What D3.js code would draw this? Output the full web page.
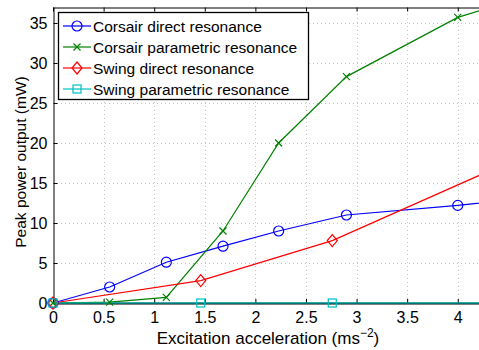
<!DOCTYPE html>
<html>
<head>
<meta charset="utf-8">
<script src="https://cdn.jsdelivr.net/npm/d3@7"></script>
<style>
  body { margin: 0; background: #fff; }
  svg { display: block; font-family: "Liberation Sans", Arial, Helvetica, sans-serif; }
</style>
</head>
<body>
<svg id="chart" width="479" height="350"></svg>
<script>
// data
const corsair_direct_x = [0, 0.56, 1.12, 1.68, 2.23, 2.9, 4.0, 4.6];
const corsair_direct_y = [0, 2.0, 5.1, 7.1, 9.0, 11.0, 12.2, 13.0];
const corsair_param_x = [0, 0.56, 1.12, 1.68, 2.23, 2.9, 4.0, 4.6];
const corsair_param_y = [0, 0.1, 0.7, 9.0, 20.0, 28.3, 35.7, 38.0];
const swing_direct_x = [0, 1.46, 2.76, 4.4];
const swing_direct_y = [0, 2.8, 7.8, 17.0];
const swing_param_x = [0, 1.46, 2.76, 4.4];
const swing_param_y = [0, 0, 0, 0];

const x_ticks = [0, 0.5, 1, 1.5, 2, 2.5, 3, 3.5, 4];
const y_ticks = [0, 5, 10, 15, 20, 25, 30, 35];

const series_names = ["Corsair direct resonance", "Corsair parametric resonance",
                      "Swing direct resonance", "Swing parametric resonance"];
const series_colors = ["#0000ff", "#008000", "#ff0000", "#00bfbf"];
const series_markers = ["circle", "cross", "diamond", "square"];

const series = [
    {xs: corsair_direct_x, ys: corsair_direct_y},
    {xs: corsair_param_x, ys: corsair_param_y},
    {xs: swing_direct_x, ys: swing_direct_y},
    {xs: swing_param_x, ys: swing_param_y}
];

const margin = {left: 53, top: 7, right: 0, bottom: 47};
const width = 479, height = 350;

const svg = d3.select('#chart');

const x = d3.scaleLinear().domain([0, 4.21]).range([margin.left, width - margin.right]);
const y = d3.scaleLinear().domain([0, 37]).range([height - margin.bottom, margin.top]);

svg.append('clipPath').attr('id', 'plot_clip')
    .append('rect')
    .attr('x', margin.left).attr('y', margin.top)
    .attr('width', width - margin.left - margin.right)
    .attr('height', y(0) - margin.top + 2);

// grid
const grid = svg.append('g')
    .style('stroke', '#c0c0c0')
    .style('stroke-dasharray', '1,3')
    .style('stroke-width', 1);
x_ticks.slice(1).forEach(function(t) {
    grid.append('line')
        .attr('x1', Math.round(x(t)) + 0.5).attr('x2', Math.round(x(t)) + 0.5)
        .attr('y1', y(0)).attr('y2', margin.top);
});
y_ticks.slice(1).forEach(function(t) {
    grid.append('line')
        .attr('x1', margin.left).attr('x2', width)
        .attr('y1', Math.round(y(t)) + 0.5).attr('y2', Math.round(y(t)) + 0.5);
});

// axes
const x_axis = svg.append('g')
    .attr('transform', 'translate(0,' + y(0) + ')')
    .call(d3.axisBottom(x).tickValues(x_ticks).tickSizeInner(-4).tickSizeOuter(0).tickPadding(9)
        .tickFormat(d3.format('')));
const x_axis_top = svg.append('g')
    .attr('transform', 'translate(0,' + (margin.top + 0.5) + ')')
    .call(d3.axisTop(x).tickValues(x_ticks).tickSizeInner(-4).tickSizeOuter(0).tickFormat(''));
const y_axis = svg.append('g')
    .attr('transform', 'translate(' + (margin.left + 0.5) + ',0)')
    .call(d3.axisLeft(y).tickValues(y_ticks).tickSizeInner(-4).tickSizeOuter(0).tickPadding(6));

[x_axis, x_axis_top, y_axis].forEach(function(ax) {
    ax.selectAll('path, line').attr('stroke', '#000');
    ax.selectAll('text').attr('fill', '#000').style('font-size', '16px')
        .style('font-family', '"Liberation Sans", Arial, sans-serif');
});
x_axis.select('.domain').attr('stroke-width', 2);

// series lines
const plot = svg.append('g').attr('clip-path', 'url(#plot_clip)');
const line = d3.line().x(d => x(d[0])).y(d => y(d[1]));

function draw_marker(g, kind, cx, cy, color) {
    if (kind === 'circle') {
        g.append('circle').attr('cx', cx).attr('cy', cy).attr('r', 5)
            .attr('fill', 'none').attr('stroke', color).attr('stroke-width', 1.2);
    } else if (kind === 'cross') {
        g.append('path')
            .attr('d', 'M' + (cx - 3.5) + ',' + (cy - 3.5) + 'L' + (cx + 3.5) + ',' + (cy + 3.5) +
                       'M' + (cx - 3.5) + ',' + (cy + 3.5) + 'L' + (cx + 3.5) + ',' + (cy - 3.5))
            .attr('stroke', color).attr('stroke-width', 1.2);
    } else if (kind === 'diamond') {
        g.append('path')
            .attr('d', 'M' + cx + ',' + (cy - 6) + 'L' + (cx + 5) + ',' + cy + 'L' + cx + ',' + (cy + 6) +
                       'L' + (cx - 5) + ',' + cy + 'Z')
            .attr('fill', 'none').attr('stroke', color).attr('stroke-width', 1.2);
    } else {
        g.append('rect').attr('x', cx - 4).attr('y', cy - 4).attr('width', 8).attr('height', 8)
            .attr('fill', 'none').attr('stroke', color).attr('stroke-width', 1.2);
    }
}

series.forEach(function(s, i) {
    const pts = s.xs.map((v, j) => [v, s.ys[j]]);
    plot.append('path')
        .attr('d', line(pts))
        .attr('fill', 'none')
        .attr('stroke', series_colors[i])
        .attr('stroke-opacity', i === 3 ? 0.6 : 1)
        .attr('stroke-width', i === 3 ? 2 : 1.2);
});
series.forEach(function(s, i) {
    s.xs.forEach(function(v, j) {
        draw_marker(svg, series_markers[i], x(v), y(s.ys[j]), series_colors[i]);
    });
});

// axis labels
svg.append('text')
    .attr('x', 268).attr('y', 344)
    .attr('text-anchor', 'middle')
    .style('font-size', '17px')
    .html('Excitation acceleration (ms<tspan dy="-7" font-size="12px">\u22122</tspan><tspan dy="7">)</tspan>');
svg.append('text')
    .attr('transform', 'translate(26,' + 162 + ') rotate(-90)')
    .attr('text-anchor', 'middle')
    .style('font-size', '15.5px')
    .text('Peak power output (mW)');

// legend
const legend = svg.append('g');
legend.append('rect')
    .attr('x', 58.5).attr('y', 12.5).attr('width', 250).attr('height', 87)
    .attr('fill', '#fff').attr('stroke', '#000').attr('stroke-width', 1.3);
series_names.forEach(function(name, i) {
    const ly = 26 + i * 21;
    legend.append('line')
        .attr('x1', 63).attr('x2', 91).attr('y1', ly).attr('y2', ly)
        .attr('stroke', series_colors[i]).attr('stroke-width', 1.2);
    draw_marker(legend, series_markers[i], 77, ly, series_colors[i]);
    legend.append('text')
        .attr('x', 93).attr('y', ly + 5.5)
        .style('font-size', '15.5px')
        .text(name);
});
</script>
</body>
</html>
